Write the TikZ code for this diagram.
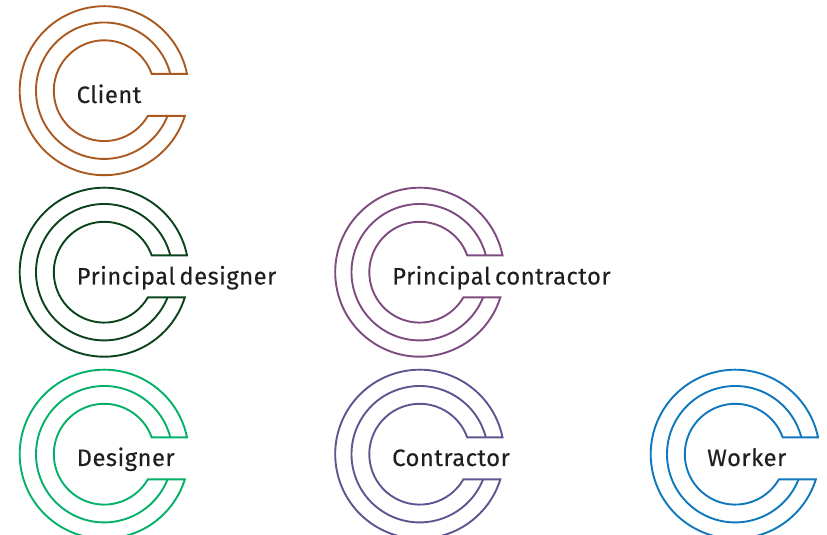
\documentclass[tikz,border=0pt]{standalone}
\usepackage{fontspec}
\setmainfont[LetterSpace=2.0,FakeBold=0.3,WordSpace=0.6]{Fira Sans}
\definecolor{cbrown}{HTML}{AA5A20}
\definecolor{cdark}{HTML}{0B441C}
\definecolor{cmag}{HTML}{7E4B80}
\definecolor{cgreen}{HTML}{05B068}
\definecolor{cpurple}{HTML}{5F5590}
\definecolor{cblue}{HTML}{0F77BD}
\tikzset{
  cring/.pic={
    \draw[pic actions] (11.47:84.5) arc[start angle=11.47,end angle=342.65,radius=84.5]
      -- (330:50.4) arc[start angle=330,end angle=19.47,radius=50.4] -- cycle;
    \draw[pic actions] (14.26:68.2) arc[start angle=14.26,end angle=338.32,radius=68.2];
  },
  ringline/.style={line width=1.9pt,line join=miter},
  role/.style={anchor=base west,inner sep=0pt,text=black!88,font=\fontsize{23.8}{25}\selectfont}
}
\begin{document}
\begin{tikzpicture}[x=1pt,y=1pt]
\useasboundingbox (0,0) rectangle (827,535);
\clip (0,0) rectangle (827,535);
\pic[ringline,draw=cbrown] at (104.2,444.3) {cring};
\pic[ringline,draw=cdark] at (104.2,262.8) {cring};
\pic[ringline,draw=cmag] at (419.7,262.8) {cring};
\pic[ringline,draw=cgreen] at (104.2,80.8) {cring};
\pic[ringline,draw=cpurple] at (419.7,80.8) {cring};
\pic[ringline,draw=cblue] at (735.2,80.8) {cring};
\node[role] (client) at (76.5,432) {Client};
\node[role] (pd) at (76.5,250.5) {Principal designer};
\node[role] (pc) at (392,250.5) {Principal contractor};
\node[role] (des) at (76.5,69) {Designer};
\node[role] (con) at (392,69) {Contractor};
\node[role] (wor) at (707,69) {Worker};
\end{tikzpicture}
\end{document}
